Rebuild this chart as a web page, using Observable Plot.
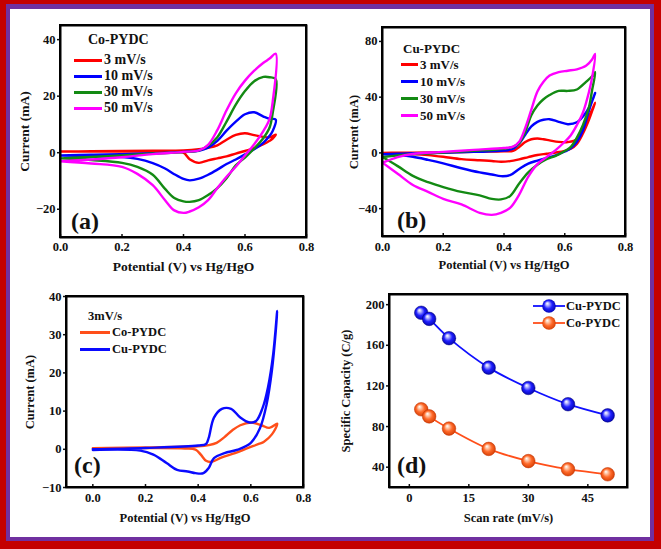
<!DOCTYPE html>
<html><head><meta charset="utf-8">
<script src="https://cdn.jsdelivr.net/npm/d3@7"></script>
<script src="https://cdn.jsdelivr.net/npm/@observablehq/plot@0.6"></script>
<style>
html,body{margin:0;padding:0;background:#fff;}
#root{position:relative;width:661px;height:549px;overflow:hidden;background:#c40000;font-family:"Liberation Serif","Times New Roman",serif;font-weight:bold;color:#111;}
#inner{position:absolute;box-sizing:border-box;left:6px;top:4px;width:648px;height:537px;border-style:solid;border-color:#7030a0;border-width:5px 4px 4px 4px;background:#fff;}
.abs{position:absolute;white-space:nowrap;}
.sw{position:absolute;height:3px;}
.fr{position:absolute;box-sizing:border-box;border:2px solid #000;pointer-events:none;}
</style></head>
<body>
<svg width="0" height="0" style="position:absolute">
 <defs>
  <radialGradient id="gBlue" cx="0.5" cy="0.5" r="0.55" fx="0.36" fy="0.3">
   <stop offset="0" stop-color="#ffffff"/><stop offset="0.18" stop-color="#c4c4ff"/><stop offset="0.55" stop-color="#2020ff"/><stop offset="1" stop-color="#0000a8"/>
  </radialGradient>
  <radialGradient id="gOrange" cx="0.5" cy="0.5" r="0.55" fx="0.36" fy="0.3">
   <stop offset="0" stop-color="#ffffff"/><stop offset="0.18" stop-color="#ffd2b8"/><stop offset="0.55" stop-color="#ff6a2a"/><stop offset="1" stop-color="#d03a00"/>
  </radialGradient>
 </defs>
</svg>
<div id="root"><div id="inner"></div></div>
<script>
// ---------------- DATA ----------------
// Panel (a) Co-PYDC, CV loops: forward (anodic) and reverse (cathodic) sweeps
const potFwdA = [0, 0.1, 0.2, 0.3, 0.4, 0.45, 0.48, 0.51, 0.54, 0.57, 0.6, 0.63, 0.66, 0.68, 0.7];
const potRevA = [0.7, 0.69, 0.68, 0.66, 0.63, 0.6, 0.57, 0.54, 0.51, 0.48, 0.45, 0.42, 0.4, 0.37, 0.34, 0.3, 0.25, 0.2, 0.1, 0];
const co3Fwd  = [0.4, 0.5, 0.6, 0.7, 0.8, 1.2, 1.7, 2.6, 4.6, 6.3, 6.9, 6.2, 5.6, 5.4, 6.4];
const co3Rev  = [6.4, 5.0, 4.2, 3.0, 1.6, 0.6, -0.3, -1.3, -2.0, -2.7, -3.6, -2.3, 0.0, 0.3, 0.35, 0.4, 0.4, 0.4, 0.4, 0.4];
const co10Fwd = [-1.0, -0.7, -0.5, -0.2, 0.3, 0.7, 1.8, 4.2, 7.8, 11, 13.6, 14.3, 12.8, 12.0, 11.7];
const co10Rev = [11.7, 7.7, 6.0, 3.6, 1.2, -0.6, -2.4, -4.0, -6.0, -7.8, -9.2, -9.8, -9.3, -7.6, -5.6, -3.7, -2.2, -1.5, -1.2, -1.0];
const co30Fwd = [-2, -1.5, -1, -0.3, 0.2, 0.8, 2.5, 5.5, 11, 17, 21.8, 25.3, 26.8, 26.7, 26];
const co30Rev = [26, 14, 8.9, 5.2, 1.5, -1.7, -4.5, -9, -12.5, -15.0, -16.8, -17.4, -17.2, -16, -12.8, -7.8, -5, -3.6, -2.6, -2];
const co50Fwd = [-3, -2.4, -1.6, -0.5, 0.3, 0.8, 2.8, 8, 15, 21, 25.5, 29, 31.8, 33.3, 35];
const co50Rev = [35, 18, 12, 7.7, 3, -1, -5, -8.5, -12.5, -16.8, -19.3, -20.8, -21.3, -20.4, -16.8, -11.5, -7.5, -5, -3.8, -3];

// Panel (b) Cu-PYDC
const potFwdB = [0, 0.05, 0.1, 0.2, 0.3, 0.4, 0.43, 0.45, 0.47, 0.49, 0.51, 0.53, 0.55, 0.58, 0.61, 0.64, 0.67, 0.69, 0.7];
const potRevB = [0.7, 0.69, 0.68, 0.66, 0.64, 0.62, 0.6, 0.57, 0.54, 0.51, 0.48, 0.45, 0.42, 0.39, 0.36, 0.32, 0.26, 0.2, 0.15, 0.1, 0.05, 0];
const cu3Fwd  = [0, 0.1, 0.2, 0.4, 0.8, 1.2, 1.5, 4.3, 7.8, 9.8, 10.3, 9.8, 9.0, 7.9, 7.8, 9.8, 22, 31, 36];
const cu3Rev  = [36, 30, 24, 14, 6.5, 3, 1.5, 0.3, -0.6, -1.5, -3, -4.6, -5.9, -6.4, -5.8, -5.3, -4.5, -2.8, -1.6, -0.8, -0.3, 0];
const cu10Fwd = [-1, -0.6, -0.3, 0.1, 0.7, 1.6, 3, 6.7, 13, 19, 22.3, 23.8, 24.2, 22.3, 20.6, 22, 29, 37, 43];
const cu10Rev = [43, 37, 30.6, 16.3, 8, 3.3, 1, -1.8, -3.6, -5.5, -7.7, -11.5, -16, -16.7, -15.5, -14, -11, -7.5, -5, -2.8, -1.6, -1];
const cu30Fwd = [-3, -1.8, -0.8, 0.2, 1.5, 3, 4.3, 7, 15, 27, 34, 38.5, 41.5, 44.5, 44.5, 45.5, 51, 55, 58];
const cu30Rev = [58, 45, 33, 20, 11, 4.3, 1.3, -2.2, -4.5, -8.5, -14, -22, -31, -33.4, -33, -30.5, -28, -24.5, -21, -16.5, -9.5, -3];
const cu50Fwd = [-7, -3, -0.8, 0.7, 2.2, 3.5, 4.5, 8, 18, 31, 44, 51, 55.5, 58, 59, 60, 62.5, 67, 71];
const cu50Rev = [71, 54, 44, 29, 20, 12.7, 8, 2, -3, -8, -17, -30, -39.5, -43, -44.5, -43, -37, -33, -28, -23, -15, -7];

// Panel (c) 3 mV/s comparison
const potFwdCo = [0, 0.2, 0.4, 0.44, 0.47, 0.5, 0.53, 0.56, 0.6, 0.64, 0.67, 0.7];
const cCoFwd   = [0.3, 0.5, 0.8, 1.1, 1.7, 3.2, 5, 6.3, 7.0, 6.3, 5.6, 6.7];
const potRevCo = [0.7, 0.68, 0.65, 0.63, 0.59, 0.54, 0.49, 0.45, 0.43, 0.41, 0.39, 0.35, 0.2, 0];
const cCoRev   = [6.7, 3.9, 2.0, 1.4, 0.35, -1.0, -2.1, -3.3, -3.0, -1.4, -0.1, 0.2, 0.3, 0.3];
const potFwdCu = [0, 0.2, 0.4, 0.43, 0.44, 0.46, 0.49, 0.525, 0.56, 0.595, 0.62, 0.645, 0.665, 0.685, 0.7];
const cCuFwd   = [0, 0.35, 1.0, 1.4, 3, 8.3, 10.6, 10.6, 8.3, 7.0, 7.4, 10.9, 16.2, 25, 36.2];
const potRevCu = [0.7, 0.695, 0.68, 0.66, 0.635, 0.6, 0.55, 0.5, 0.46, 0.44, 0.42, 0.39, 0.36, 0.32, 0.28, 0.23, 0.18, 0];
const cCuRev   = [36.2, 31.2, 20.6, 11.8, 5.6, 1.7, -0.1, -1.0, -2.3, -4.9, -6.25, -6.25, -5.8, -5.4, -3.6, -1.4, -0.35, -0.2];

// Panel (d) specific capacity vs scan rate
const scanRates = [3, 5, 10, 20, 30, 40, 50];
const capCu = [192, 186, 167, 138, 118, 102, 91];
const capCo = [97, 90, 78, 58, 46, 38, 33];

// Labels / ticks
const rateLabels = ["3 mV/s", "10 mV/s", "30 mV/s", "50 mV/s"];
const rateColors = ["#ff0000", "#0000ff", "#138a13", "#ff00ff"];
const potTicks = [0, 0.2, 0.4, 0.6, 0.8];
const yTicksA = [-20, 0, 20, 40];
const yTicksB = [-40, 0, 40, 80];
const yTicksC = [-10, 0, 10, 20, 30, 40];
const xTicksD = [0, 15, 30, 45];
const yTicksD = [40, 80, 120, 160, 200];
const xLabelCV = "Potential (V) vs Hg/HgO";
const yLabelCV = "Current (mA)";

// ---------------- HELPERS ----------------
const root = document.getElementById("root");
const FONT = "'Liberation Serif','Times New Roman',serif";
const fmt1 = d3.format(".1f");
const frameBoxes = [];

function loop(pf, cf, pr, cr) {
  const out = pf.map((v, k) => ({v, i: cf[k]}));
  pr.forEach((v, k) => { if (k > 0) out.push({v, i: cr[k]}); });
  return out;
}

function axes({xTicks, yTicks, xFmt, yFmt, xLabel, yLabel, xLabelOffset, yLabelOffset, xPad, labelSize}) {
  return [
    Plot.axisY({ticks: yTicks, tickFormat: yFmt, tickSize: 3, tickPadding: 2, label: null, fontSize: 12.5, strokeWidth: 1.5}),
    Plot.axisY({ticks: [], label: yLabel, labelAnchor: "center", labelOffset: yLabelOffset, labelArrow: "none", fontSize: labelSize}),
    Plot.axisX({ticks: xTicks, tickFormat: xFmt, tickSize: 0, tickPadding: xPad, label: null, fontSize: 12.5}),
    Plot.axisX({ticks: xTicks, tickFormat: () => "", tickSize: 3, dy: -3, label: null, strokeWidth: 1.5}),
    Plot.axisX({ticks: [], label: xLabel, labelAnchor: "center", labelOffset: xLabelOffset, labelArrow: "none", fontSize: labelSize})
  ];
}

function chart(o) {
  const svg = Plot.plot({
    width: o.w, height: o.h,
    marginLeft: o.ml, marginRight: o.mr, marginTop: o.mt, marginBottom: o.mb,
    style: {fontFamily: FONT, fontWeight: "bold", fontSize: "12px", background: "transparent", overflow: "visible", color: "#111"},
    x: {domain: o.xDomain},
    y: {domain: o.yDomain},
    marks: [...o.marks, Plot.frame({stroke: "#000", strokeWidth: 2}), ...axes(o)]
  });
  svg.style.position = "absolute";
  svg.style.left = o.left + "px";
  svg.style.top = o.top + "px";
  root.appendChild(svg);
  frameBoxes.push([o.left + o.ml - 0.5, o.top + o.mt - 0.5, o.w - o.ml - o.mr + 2, o.h - o.mt - o.mb + 2]);
  return svg;
}

function txt(s, left, centerY, size, color) {
  const d = document.createElement("div");
  d.className = "abs";
  d.textContent = s;
  d.style.left = left + "px";
  d.style.fontSize = size + "px";
  d.style.lineHeight = (size + 4) + "px";
  d.style.top = (centerY - (size + 4) / 2) + "px";
  if (color) d.style.color = color;
  root.appendChild(d);
  return d;
}
function swatch(left, width, centerY, color) {
  const d = document.createElement("div");
  d.className = "sw";
  d.style.left = left + "px";
  d.style.width = width + "px";
  d.style.top = (centerY - 1.5) + "px";
  d.style.background = color;
  root.appendChild(d);
}
function cvLine(data, color) {
  return Plot.line(data, {x: "v", y: "i", stroke: color, strokeWidth: 2.4, curve: "catmull-rom"});
}

// ---------------- PANEL (a) ----------------
const seriesA = [
  loop(potFwdA, co3Fwd, potRevA, co3Rev),
  loop(potFwdA, co10Fwd, potRevA, co10Rev),
  loop(potFwdA, co30Fwd, potRevA, co30Rev),
  loop(potFwdA, co50Fwd, potRevA, co50Rev)
];
chart({left: 0, top: 0, w: 330, h: 280, ml: 60, mr: 24, mt: 25, mb: 43,
  xDomain: [0, 0.8], yDomain: [-30, 45],
  xTicks: potTicks, yTicks: yTicksA, xFmt: fmt1, yFmt: d3.format("d"),
  xLabel: xLabelCV, yLabel: yLabelCV, xLabelOffset: 33, yLabelOffset: 41, xPad: 5, labelSize: 13.5,
  marks: seriesA.map((s, k) => cvLine(s, rateColors[k]))
});

// ---------------- PANEL (b) ----------------
const seriesB = [
  loop(potFwdB, cu3Fwd, potRevB, cu3Rev),
  loop(potFwdB, cu10Fwd, potRevB, cu10Rev),
  loop(potFwdB, cu30Fwd, potRevB, cu30Rev),
  loop(potFwdB, cu50Fwd, potRevB, cu50Rev)
];
chart({left: 330, top: 0, w: 331, h: 280, ml: 52, mr: 36, mt: 27, mb: 44,
  xDomain: [0, 0.8], yDomain: [-60, 90],
  xTicks: potTicks, yTicks: yTicksB, xFmt: fmt1, yFmt: d3.format("d"),
  xLabel: xLabelCV, yLabel: yLabelCV, xLabelOffset: 32, yLabelOffset: 33, xPad: 6, labelSize: 12.5,
  marks: seriesB.map((s, k) => cvLine(s, rateColors[k]))
});

// ---------------- PANEL (c) ----------------
const compColors = ["#ff4f1a", "#0a0aff"];
const compLabels = ["Co-PYDC", "Cu-PYDC"];
chart({left: 0, top: 270, w: 330, h: 279, ml: 66, mr: 27, mt: 26, mb: 62,
  xDomain: [-0.1, 0.8], yDomain: [-10, 40],
  xTicks: potTicks, yTicks: yTicksC, xFmt: fmt1, yFmt: d3.format("d"),
  xLabel: xLabelCV, yLabel: yLabelCV, xLabelOffset: 34, yLabelOffset: 41, xPad: 6, labelSize: 12.5,
  marks: [
    cvLine(loop(potFwdCo, cCoFwd, potRevCo, cCoRev), compColors[0]),
    cvLine(loop(potFwdCu, cCuFwd, potRevCu, cCuRev), compColors[1])
  ]
});

// ---------------- PANEL (d) ----------------
const capRows = scanRates.map((r, k) => ({r, cu: capCu[k], co: capCo[k]}));
chart({left: 330, top: 270, w: 331, h: 279, ml: 59, mr: 34, mt: 24, mb: 62,
  xDomain: [-5, 55], yDomain: [20, 210],
  xTicks: xTicksD, yTicks: yTicksD, xFmt: d3.format("d"), yFmt: d3.format("d"),
  xLabel: "Scan rate (mV/s)", yLabel: "Specific Capacity (C/g)", xLabelOffset: 34, yLabelOffset: 48, xPad: 6, labelSize: 12.5,
  marks: [
    Plot.line(capRows, {x: "r", y: "cu", stroke: "#1010ff", strokeWidth: 1.8, curve: "catmull-rom"}),
    Plot.line(capRows, {x: "r", y: "co", stroke: "#ff4f1a", strokeWidth: 1.8, curve: "catmull-rom"}),
    Plot.dot(capRows, {x: "r", y: "cu", r: 6.8, fill: "url(#gBlue)", stroke: "#00007a", strokeWidth: 0.5}),
    Plot.dot(capRows, {x: "r", y: "co", r: 6.8, fill: "url(#gOrange)", stroke: "#c03000", strokeWidth: 0.5})
  ]
});

// ---------------- LEGENDS & PANEL LABELS ----------------
// (a)
txt("Co-PYDC", 88, 40, 14);
[60, 76, 92, 108].forEach((y, k) => { swatch(74, 28, y, rateColors[k]); txt(rateLabels[k], 104, y, 14); });
// (b)
txt("Cu-PYDC", 403, 48, 13);
[64, 81, 98, 115].forEach((y, k) => { swatch(401, 17, y, rateColors[k]); txt(rateLabels[k], 420, y, 13); });
// (c)
txt("3mV/s", 88, 316, 12.5);
[332, 349].forEach((y, k) => { swatch(80, 30, y, compColors[k]); txt(compLabels[k], 112, y, 12.5); });
// (d)
const legD = [{label: "Cu-PYDC", color: "#1010ff", grad: "gBlue", y: 306}, {label: "Co-PYDC", color: "#ff4f1a", grad: "gOrange", y: 323}];
legD.forEach(l => {
  const ns = "http://www.w3.org/2000/svg";
  const s = document.createElementNS(ns, "svg");
  s.setAttribute("width", 32); s.setAttribute("height", 16);
  s.style.position = "absolute"; s.style.left = "533px"; s.style.top = (l.y - 8) + "px";
  const ln = document.createElementNS(ns, "line");
  ln.setAttribute("x1", 0); ln.setAttribute("x2", 32); ln.setAttribute("y1", 8); ln.setAttribute("y2", 8);
  ln.setAttribute("stroke", l.color); ln.setAttribute("stroke-width", 1.8);
  const c = document.createElementNS(ns, "circle");
  c.setAttribute("cx", 16); c.setAttribute("cy", 8); c.setAttribute("r", 6.8);
  c.setAttribute("fill", `url(#${l.grad})`);
  s.appendChild(ln); s.appendChild(c); root.appendChild(s);
  txt(l.label, 566, l.y, 12.5);
});
// panel letters
[["(a)", 71, 223], ["(b)", 397, 222], ["(c)", 74, 467], ["(d)", 397, 467]].forEach(([s, x, y]) => {
  const d = txt(s, x, y, 24);
  d.style.top = (y - 14) + "px"; d.style.lineHeight = "24px";
});
// plot-area borders kept on top of everything
frameBoxes.forEach(([x, y, w, h]) => {
  const d = document.createElement("div");
  d.className = "fr";
  d.style.left = (x - 1) + "px"; d.style.top = (y - 1) + "px";
  d.style.width = w + "px"; d.style.height = h + "px";
  root.appendChild(d);
});
</script>
</body></html>
